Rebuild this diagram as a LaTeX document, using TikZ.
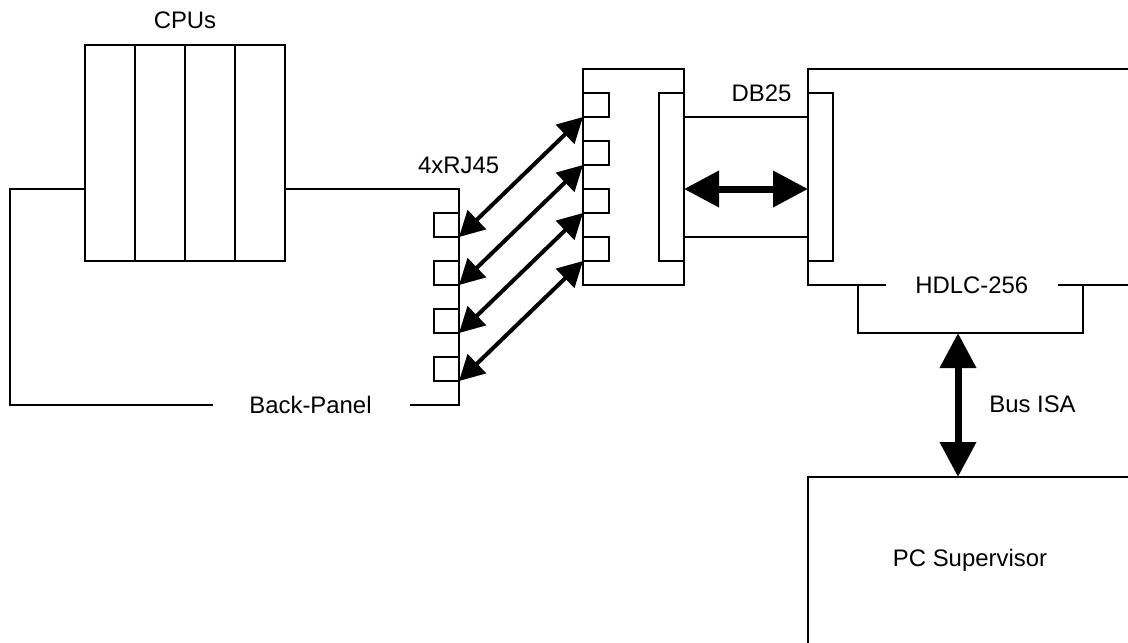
\documentclass[tikz,border=0pt]{standalone}
\usepackage{fontspec}
\setmainfont{Liberation Sans}
\usetikzlibrary{arrows.meta}
\tikzset{
  boxpart/.style={draw=black,line width=2pt,minimum width=#1,inner sep=0pt,outer sep=0pt},
  panel/.style={draw=black,line width=2pt,line join=miter},
  lbl/.style={anchor=base,inner sep=0pt,font=\fontsize{23.9}{26}\selectfont},
  thinarrow/.style={line width=4pt,{Triangle[length=25pt 0 0,width=26pt 0 0]}-{Triangle[length=25pt 0 0,width=26pt 0 0]}},
  thickarrow/.style={line width=7pt,{Triangle[length=35pt 0 0,width=35pt 0 0]}-{Triangle[length=35pt 0 0,width=35pt 0 0]}}
}
\begin{document}
\begin{tikzpicture}[x=1pt,y=-1pt]
\useasboundingbox (0,0) rectangle (1128,643);
% CPUs
\foreach \n/\cx in {cpua/110,cpub/160,cpuc/210,cpud/260}
  \node[boxpart=50pt,minimum height=216pt] (\n) at (\cx,153) {};
% Back panel outline
\coordinate (bpA) at (10,189);
\coordinate (bpB) at (10,405);
\coordinate (bpC) at (213,405);
\coordinate (bpD) at (410,405);
\coordinate (bpE) at (459,405);
\coordinate (bpF) at (459,189);
\draw[panel] (cpua.west |- bpA) -- (bpA) -- (bpB) -- (bpC);
\draw[panel] (bpD) -- (bpE) -- (bpF) -- (cpud.east |- bpF);
% RJ45 ports, back panel
\foreach \n/\cy in {la/225,lb/273,lc/321,ld/369}
  \node[boxpart=25pt,minimum height=24pt] (\n) at (446.5,\cy) {};
% Middle box
\node[boxpart=101pt,minimum height=216pt] (mid) at (633.5,177) {};
\foreach \n/\cy in {ra/105,rb/153,rc/201,rd/249}
  \node[boxpart=26pt,minimum height=24pt] (\n) at (596,\cy) {};
\node[boxpart=25pt,minimum height=168pt] (midconn) at (671.5,177) {};
% Right board
\coordinate (hA) at (1128,69);
\coordinate (hB) at (808,69);
\coordinate (hC) at (808,285);
\coordinate (hD) at (886,285);
\coordinate (hE) at (1058,285);
\coordinate (hF) at (1128,285);
\draw[panel] (hA) -- (hB) -- (hC) -- (hD);
\draw[panel] (hE) -- (hF);
\node[boxpart=25pt,minimum height=168pt] (dbconn) at (820.5,177) {};
% Cable
\coordinate (cabT) at (684,117);
\coordinate (cabB) at (684,237);
\draw[panel] (cabT) -- (dbconn.west |- cabT);
\draw[panel] (cabB) -- (dbconn.west |- cabB);
% HDLC tab
\coordinate (tA) at (858,285);
\coordinate (tB) at (858,333);
\coordinate (tC) at (1083,333);
\coordinate (tD) at (1083,285);
\draw[panel] (tA) -- (tB) -- (tC) -- (tD);
% PC
\coordinate (pA) at (808,643);
\coordinate (pB) at (808,477);
\coordinate (pC) at (1128,477);
\draw[panel] (pA) -- (pB) -- (pC);
% Arrows
\foreach \a/\b in {la/ra,lb/rb,lc/rc,ld/rd}
  \draw[thinarrow] (\a.south east) -- (\b.south west);
\coordinate (busY) at (684,189);
\draw[thickarrow] (midconn.east |- busY) -- (dbconn.west |- busY);
\coordinate (isaT) at (958,333);
\coordinate (isaB) at (958,477);
\draw[thickarrow] (isaT) -- (isaB);
% Labels
\node[lbl] (tcpu) at (185,28.5) {CPUs};
\node[lbl] (trj) at (458.7,173.5) {4xRJ45};
\node[lbl] (tdb) at (761.5,101.5) {DB25};
\node[lbl] (thdlc) at (971.8,293.5) {HDLC-256};
\node[lbl] (tbus) at (1032.5,412.5) {Bus ISA};
\node[lbl] (tpc) at (970,566.5) {PC Supervisor};
\node[lbl] (tback) at (310.5,413.5) {Back-Panel};
\end{tikzpicture}
\end{document}
